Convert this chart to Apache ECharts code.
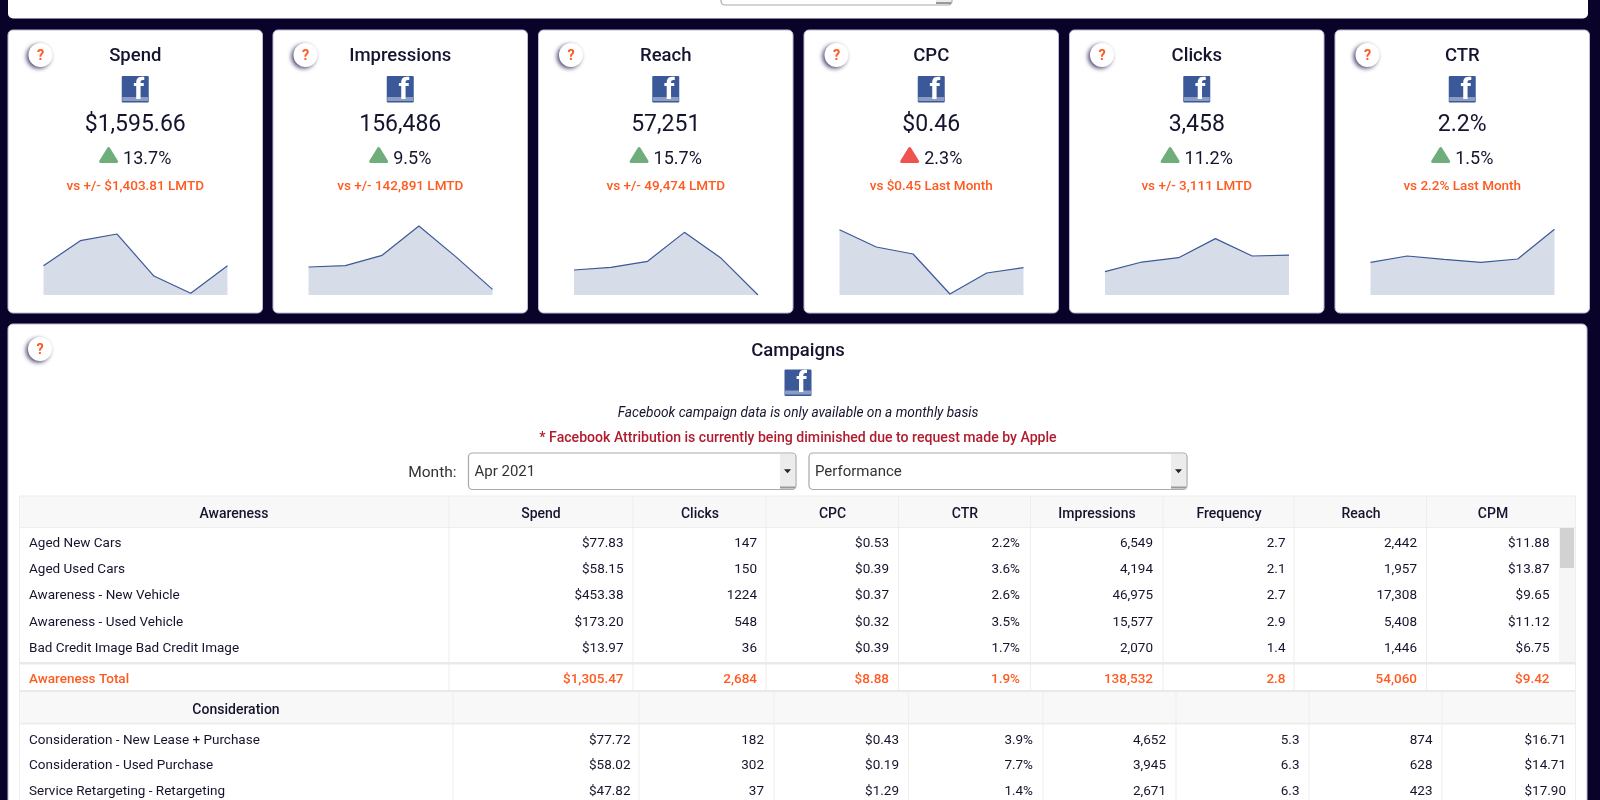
<!DOCTYPE html>
<html>
<head>
<meta charset="utf-8">
<title>Facebook campaigns</title>
<script src="https://cdn.jsdelivr.net/npm/echarts@6/dist/echarts.min.js"></script>
<style>
  html, body { margin: 0; padding: 0; background: #0a0329; }
  #chart { width: 1600px; height: 800px; }
</style>
</head>
<body>
<div id="chart"></div>
<script>
// KPI cards
const metricNames = ['Spend', 'Impressions', 'Reach', 'CPC', 'Clicks', 'CTR'];
const metricValues = ['$1,595.66', '156,486', '57,251', '$0.46', '3,458', '2.2%'];
const metricDeltas = ['13.7%', '9.5%', '15.7%', '2.3%', '11.2%', '1.5%'];
const metricBad = [false, false, false, true, false, false];
const metricCompare = [
  'vs +/- $1,403.81 LMTD',
  'vs +/- 142,891 LMTD',
  'vs +/- 49,474 LMTD',
  'vs $0.45 Last Month',
  'vs +/- 3,111 LMTD',
  'vs 2.2% Last Month'
];

// sparklines, no axis in the picture so values are relative (0-100)
const trendPeriods = ['Nov', 'Dec', 'Jan', 'Feb', 'Mar', 'Apr'];
const spendTrend = [41.9, 77.6, 87.1, 27.1, 2.4, 41.9];
const impressionsTrend = [40, 41.9, 56.7, 98.6, 54.8, 8.1];
const reachTrend = [35.7, 39.5, 48.1, 89.5, 52.4, 0];
const cpcTrend = [93.3, 68.6, 58.6, 1.4, 31.4, 39];
const clicksTrend = [33.3, 47.1, 53.3, 80.5, 55.7, 57.1];
const ctrTrend = [46.7, 55.7, 51, 46.7, 51.4, 93.8];
const trends = [spendTrend, impressionsTrend, reachTrend, cpcTrend, clicksTrend, ctrTrend];

// campaigns table
const tableHeaders = ['Spend', 'Clicks', 'CPC', 'CTR', 'Impressions', 'Frequency', 'Reach', 'CPM'];
const awarenessNames = [
  'Aged New Cars',
  'Aged Used Cars',
  'Awareness - New Vehicle',
  'Awareness - Used Vehicle',
  'Bad Credit Image Bad Credit Image'
];
const awarenessRows = [
  ['$77.83', '147', '$0.53', '2.2%', '6,549', '2.7', '2,442', '$11.88'],
  ['$58.15', '150', '$0.39', '3.6%', '4,194', '2.1', '1,957', '$13.87'],
  ['$453.38', '1224', '$0.37', '2.6%', '46,975', '2.7', '17,308', '$9.65'],
  ['$173.20', '548', '$0.32', '3.5%', '15,577', '2.9', '5,408', '$11.12'],
  ['$13.97', '36', '$0.39', '1.7%', '2,070', '1.4', '1,446', '$6.75']
];
const awarenessTotal = ['$1,305.47', '2,684', '$8.88', '1.9%', '138,532', '2.8', '54,060', '$9.42'];
const considerationNames = [
  'Consideration - New Lease + Purchase',
  'Consideration - Used Purchase',
  'Service Retargeting - Retargeting'
];
const considerationRows = [
  ['$77.72', '182', '$0.43', '3.9%', '4,652', '5.3', '874', '$16.71'],
  ['$58.02', '302', '$0.19', '7.7%', '3,945', '6.3', '628', '$14.71'],
  ['$47.82', '37', '$1.29', '1.4%', '2,671', '6.3', '423', '$17.90']
];

const FONT = 'Roboto, "Noto Sans", sans-serif';
const INK = '#14142e';
const ORANGE = '#ff5a1f';
const cardLefts = [8, 273, 538.5, 804, 1069.5, 1335];
const CARD_W = 254.5;

const measureCtx = document.createElement('canvas').getContext('2d');

function textWidth(str, font) {
  measureCtx.font = font;
  return measureCtx.measureText(str).width;
}

function label(str, x, y, size, opts = {}) {
  return {
    type: 'text',
    silent: true,
    x,
    y,
    style: {
      text: str,
      fill: opts.color || INK,
      font: `${opts.style || 'normal'} ${opts.weight || 400} ${size}px ${FONT}`,
      align: opts.align || 'left',
      verticalAlign: 'middle'
    }
  };
}

function box(x, y, width, height, fill, opts = {}) {
  return {
    type: 'rect',
    silent: true,
    shape: { x, y, width, height, r: opts.r || 0 },
    style: {
      fill,
      stroke: opts.stroke || null,
      lineWidth: opts.lineWidth || 1,
      shadowBlur: opts.shadowBlur || 0,
      shadowColor: opts.shadowColor || 'transparent'
    }
  };
}

function vline(x, y1, y2, color = '#eeeef0') {
  return box(x - 0.5, y1, 1, y2 - y1, color);
}

function helpIcon(cx, cy) {
  return [
    {
      type: 'circle',
      silent: true,
      shape: { cx, cy, r: 12 },
      style: {
        fill: '#fff',
        shadowBlur: 4,
        shadowOffsetX: -2,
        shadowOffsetY: 1.5,
        shadowColor: 'rgba(20,15,70,0.75)'
      }
    },
    label('?', cx, cy + 1, 14.5, { color: ORANGE, weight: 700, align: 'center' })
  ];
}

function fbIcon(cx, top) {
  const left = cx - 13.5;
  return [
    box(left, top, 27, 26.5, '#3b5998', { r: 1 }),
    box(left + 0.5, top + 21, 26, 4, '#8b9dc3'),
    label('f', left + 17, top + 15, 30, { color: '#fff', weight: 700, align: 'center' })
  ];
}

function triangle(left, top, color) {
  const w = 16;
  const h = 13;
  return {
    type: 'polygon',
    silent: true,
    shape: { points: [[left + w / 2, top], [left + w, top + h], [left, top + h]] },
    style: { fill: color, stroke: color, lineWidth: 3, lineJoin: 'round' }
  };
}

function selectBox(x, y, width, height, text) {
  const items = [
    box(x, y, width, height, '#fff', { r: 4, stroke: '#a9a9a9', lineWidth: 1.2 }),
    box(x + width - 16, y + 1, 15, height - 2, '#ececec'),
    box(x + width - 16, y + height - 3, 15, 2, '#999'),
    {
      type: 'polygon',
      silent: true,
      shape: {
        points: [
          [x + width - 12, y + height / 2 - 2],
          [x + width - 5, y + height / 2 - 2],
          [x + width - 8.5, y + height / 2 + 2]
        ]
      },
      style: { fill: '#222' }
    }
  ];
  if (text) {
    items.push(label(text, x + 6, y + height / 2 + 1, 15, { color: '#333' }));
  }
  return items;
}

function buildCards() {
  const items = [];
  metricNames.forEach((name, i) => {
    const x = cardLefts[i];
    const cx = x + CARD_W / 2;
    items.push(box(x, 30, CARD_W, 283, '#fff', { r: 5, stroke: '#bdb9d8' }));
    items.push(...helpIcon(x + 32.5, 55));
    items.push(label(name, cx, 56, 18.5, { align: 'center', weight: 500 }));
    items.push(...fbIcon(cx, 76));
    items.push(label(metricValues[i], cx, 125.5, 23, { align: 'center' }));

    const deltaFont = `400 18px ${FONT}`;
    const deltaW = textWidth(metricDeltas[i], deltaFont);
    const left = cx - (deltaW + 24) / 2;
    items.push(triangle(left + 1.5, 148.5, metricBad[i] ? '#ef5350' : '#6fae7b'));
    items.push(label(metricDeltas[i], left + 24, 159, 18));
    items.push(label(metricCompare[i], cx, 187, 13.5, { align: 'center', color: ORANGE, weight: 500 }));
  });
  return items;
}

function buildTable() {
  const items = [];
  const colEdges = [449, 633, 766, 898.5, 1030.5, 1163, 1294, 1426.5];
  const headCenters = [541, 700, 832.5, 965, 1097, 1229, 1361, 1493];
  const rightEdges = [623.5, 757, 889, 1020, 1153, 1285.5, 1417, 1549.5];
  const colEdges2 = [453, 639, 774, 908.5, 1043, 1176, 1309, 1442];
  const rightEdges2 = [630.5, 764, 899, 1033, 1166, 1299.5, 1432.5, 1566];
  const tableL = 19.5;
  const tableR = 1575.5;

  // awareness header
  items.push(box(tableL, 496, tableR - tableL, 31.5, '#f8f8f8'));
  items.push(box(tableL, 495.5, tableR - tableL, 1, '#eeeeee'));
  items.push(box(tableL, 527, tableR - tableL, 1, '#eeeeee'));
  items.push(label('Awareness', 234, 514, 14, { align: 'center', weight: 500 }));
  tableHeaders.forEach((h, c) => {
    items.push(label(h, headCenters[c], 514, 14, { align: 'center', weight: 500 }));
  });

  // awareness body
  [tableL, ...colEdges, tableR].forEach((x) => items.push(vline(x, 496, 691)));
  const awarenessY = [544, 570, 596, 623, 649];
  awarenessNames.forEach((name, r) => {
    items.push(label(name, 29, awarenessY[r], 13.5));
    awarenessRows[r].forEach((val, c) => {
      items.push(label(val, rightEdges[c], awarenessY[r], 13.5, { align: 'right' }));
    });
  });

  // scrollbar
  items.push(box(1559, 528, 16, 135, '#f6f6f6'));
  items.push(box(1560, 528, 14, 40, '#d2d2d2'));

  // total
  items.push(box(tableL, 662, tableR - tableL, 2.5, '#e9e9e9'));
  items.push(label('Awareness Total', 29, 680, 13.5, { color: ORANGE, weight: 500 }));
  awarenessTotal.forEach((val, c) => {
    items.push(label(val, rightEdges[c], 680, 13.5, { align: 'right', color: ORANGE, weight: 500 }));
  });

  // consideration
  items.push(box(tableL, 691, tableR - tableL, 32, '#f8f8f8'));
  items.push(box(tableL, 690, tableR - tableL, 2, '#e9e9e9'));
  items.push(box(tableL, 722.5, tableR - tableL, 2, '#eeeeee'));
  items.push(label('Consideration', 236, 710.5, 14, { align: 'center', weight: 500 }));
  [tableL, ...colEdges2, tableR].forEach((x) => items.push(vline(x, 691, 800)));
  const considerationY = [740.5, 766, 792];
  considerationNames.forEach((name, r) => {
    items.push(label(name, 29, considerationY[r], 13.5));
    considerationRows[r].forEach((val, c) => {
      items.push(label(val, rightEdges2[c], considerationY[r], 13.5, { align: 'right' }));
    });
  });
  return items;
}

function buildPage() {
  const items = [];
  // top panel, cut off by the window
  items.push(box(8, -12, 1580, 30.5, '#fff', { r: 5 }));
  items.push(...selectBox(721, -30, 231, 35, ''));
  items.push(...buildCards());

  // campaigns panel
  items.push(box(8, 324, 1579, 490, '#fff', { r: 5, stroke: '#bdb9d8' }));
  items.push(...helpIcon(40, 349));
  items.push(label('Campaigns', 798, 351, 18.5, { align: 'center', weight: 500 }));
  items.push(...fbIcon(798, 369.5));
  items.push(label('Facebook campaign data is only available on a monthly basis', 798, 414, 13.7, { align: 'center', style: 'italic' }));
  items.push(label('* Facebook Attribution is currently being diminished due to request made by Apple', 798, 438.5, 14.1, { align: 'center', color: '#b01c2e', weight: 500 }));
  items.push(label('Month:', 456.5, 473.5, 15.5, { align: 'right', color: '#333' }));
  items.push(...selectBox(468.5, 453, 327.5, 36.5, 'Apr 2021'));
  items.push(...selectBox(809, 453, 378, 36.5, 'Performance'));
  items.push(...buildTable());
  return items;
}

const chart = echarts.init(document.getElementById('chart'), null, { renderer: 'canvas' });

chart.setOption({
  animation: false,
  backgroundColor: '#0a0329',
  graphic: { elements: buildPage() },
  grid: cardLefts.map((x) => ({ left: x + 35.5, top: 225, width: 184, height: 70 })),
  xAxis: cardLefts.map((x, i) => ({
    type: 'category',
    gridIndex: i,
    data: trendPeriods,
    boundaryGap: false,
    show: false
  })),
  yAxis: cardLefts.map((x, i) => ({
    type: 'value',
    gridIndex: i,
    min: 0,
    max: 100,
    show: false
  })),
  series: trends.map((trend, i) => ({
    name: metricNames[i],
    type: 'line',
    xAxisIndex: i,
    yAxisIndex: i,
    data: trend,
    symbol: 'none',
    lineStyle: { color: '#3b5998', width: 1.2 },
    areaStyle: { color: '#d6dce8', opacity: 1 }
  }))
});
</script>
</body>
</html>
